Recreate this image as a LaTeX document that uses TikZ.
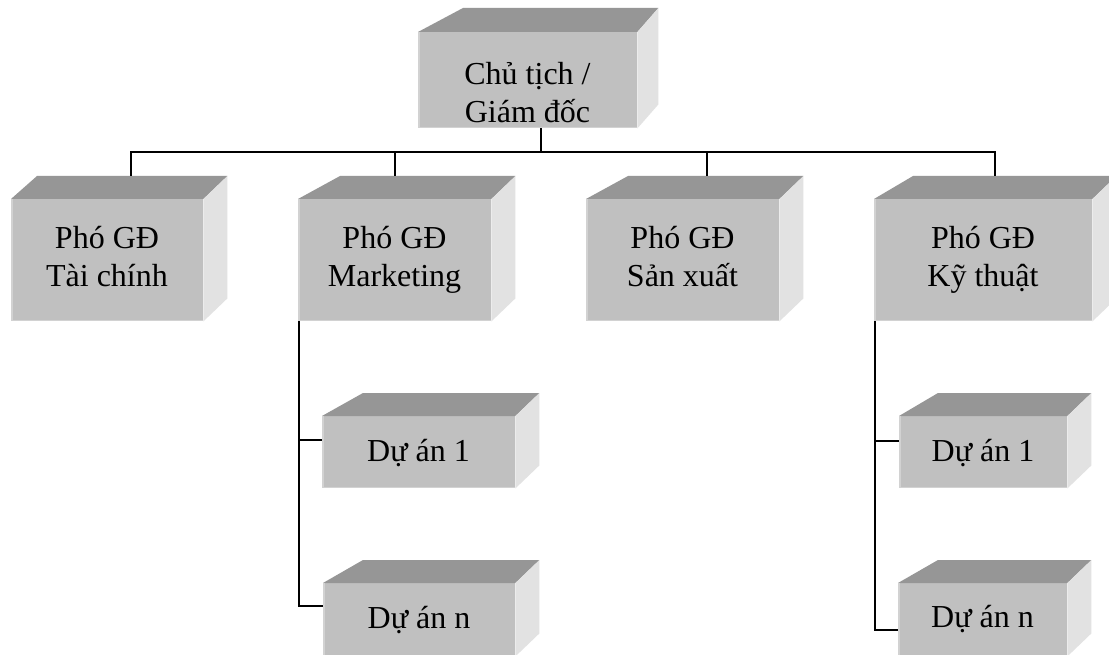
\documentclass[tikz,border=0pt]{standalone}
\usepackage{fontspec}
\setmainfont{Liberation Serif}
\usetikzlibrary{calc}
\definecolor{frontc}{HTML}{C0C0C0}
\definecolor{topc}{HTML}{969696}
\definecolor{sidec}{HTML}{E2E2E2}
\definecolor{edgec}{HTML}{D2D2D2}
\newcommand\cubefaces[4]{%
  \fill[topc] (#1.north west) -- ++(#2,-#4) -- ([shift={(#3pt,#4pt)}]#1.north east) -- (#1.north east) -- cycle;
  \fill[sidec] (#1.north east) -- ++(#3,-#4) -- ([shift={(#3pt,#4pt)}]#1.south east) -- (#1.south east) -- cycle;
  \draw[edgec, line width=1.5pt] ([shift={(0.75pt,0pt)}]#1.north west) -- ([shift={(0.75pt,0.75pt)}]#1.south west) -- ([shift={(0pt,0.75pt)}]#1.south east);
}
\tikzset{
  front/.style={fill=frontc, draw=none, inner sep=0pt, anchor=north west, minimum width=#1},
  front/.default=193pt,
  lbl/.style={font=\fontsize{32}{38}\selectfont, align=center, anchor=base, inner sep=0pt, text=black},
  conn/.style={draw=black, line width=1.6pt}
}
\begin{document}
\begin{tikzpicture}[x=1pt, y=-1pt]
\clip (0,0) rectangle (1109,655);
\fill[white] (0,0) rectangle (1109,655);
% front faces
\node[front=219pt, minimum height=96pt] (top) at (418,32) {};
\node[front=192pt, minimum height=122pt] (tc) at (11,199) {};
\node[front=193pt, minimum height=122pt] (mk) at (298,199) {};
\node[front=193pt, minimum height=122pt] (sx) at (586,199) {};
\node[front=218pt, minimum height=122pt] (kt) at (874,199) {};
\node[front=193pt, minimum height=72pt] (md1) at (322,416) {};
\node[front=192pt, minimum height=73pt] (mdn) at (323,583) {};
\node[front=168pt, minimum height=72pt] (kd1) at (899,416) {};
\node[front=169pt, minimum height=73pt] (kdn) at (898,583) {};
% 3D faces
\cubefaces{top}{45}{21}{24}
\cubefaces{tc}{26}{24}{23}
\cubefaces{mk}{42}{24}{23}
\cubefaces{sx}{42}{24}{23}
\cubefaces{kt}{39}{24}{23}
\cubefaces{md1}{41}{24}{23}
\cubefaces{mdn}{40}{24}{23}
\cubefaces{kd1}{39}{24}{23}
\cubefaces{kdn}{40}{24}{23}
% labels
\node[lbl] (ltop) at (527.5,123) {Chủ tịch /\\Giám đốc};
\node[lbl] (ltc) at (107,287) {Phó GĐ\\Tài chính};
\node[lbl] (lmk) at (394.5,287) {Phó GĐ\\Marketing};
\node[lbl] (lsx) at (682.5,287) {Phó GĐ\\Sản xuất};
\node[lbl] (lkt) at (983,287) {Phó GĐ\\Kỹ thuật};
\node[lbl] (lmd1) at (418.5,461) {Dự án 1};
\node[lbl] (lmdn) at (419,628) {Dự án n};
\node[lbl] (lkd1) at (983,461) {Dự án 1};
\node[lbl] (lkdn) at (982.5,627) {Dự án n};
% connectors
\coordinate (bus) at (541,152);
\draw[conn] (top.south -| bus) -- (bus);
\draw[conn] ([shift={(120pt,23pt)}]tc.north west) |- (bus);
\draw[conn] ([shift={(121pt,23pt)}]kt.north west) |- (bus);
\draw[conn] ([shift={(97pt,23pt)}]mk.north west) -- ([xshift=97pt]mk.north west |- bus);
\draw[conn] ([shift={(121pt,23pt)}]sx.north west) -- ([xshift=121pt]sx.north west |- bus);
\draw[conn] ([xshift=1pt]mk.south west) |- ([yshift=-23pt]mdn.north west);
\draw[conn] ([shift={(1pt,-24pt)}]md1.north west -| mk.south west) -- ([yshift=-24pt]md1.north west);
\draw[conn] ([xshift=1pt]kt.south west) |- ([yshift=-47pt]kdn.north west);
\draw[conn] ([shift={(1pt,-25pt)}]kd1.north west -| kt.south west) -- ([yshift=-25pt]kd1.north west);
\end{tikzpicture}
\end{document}
